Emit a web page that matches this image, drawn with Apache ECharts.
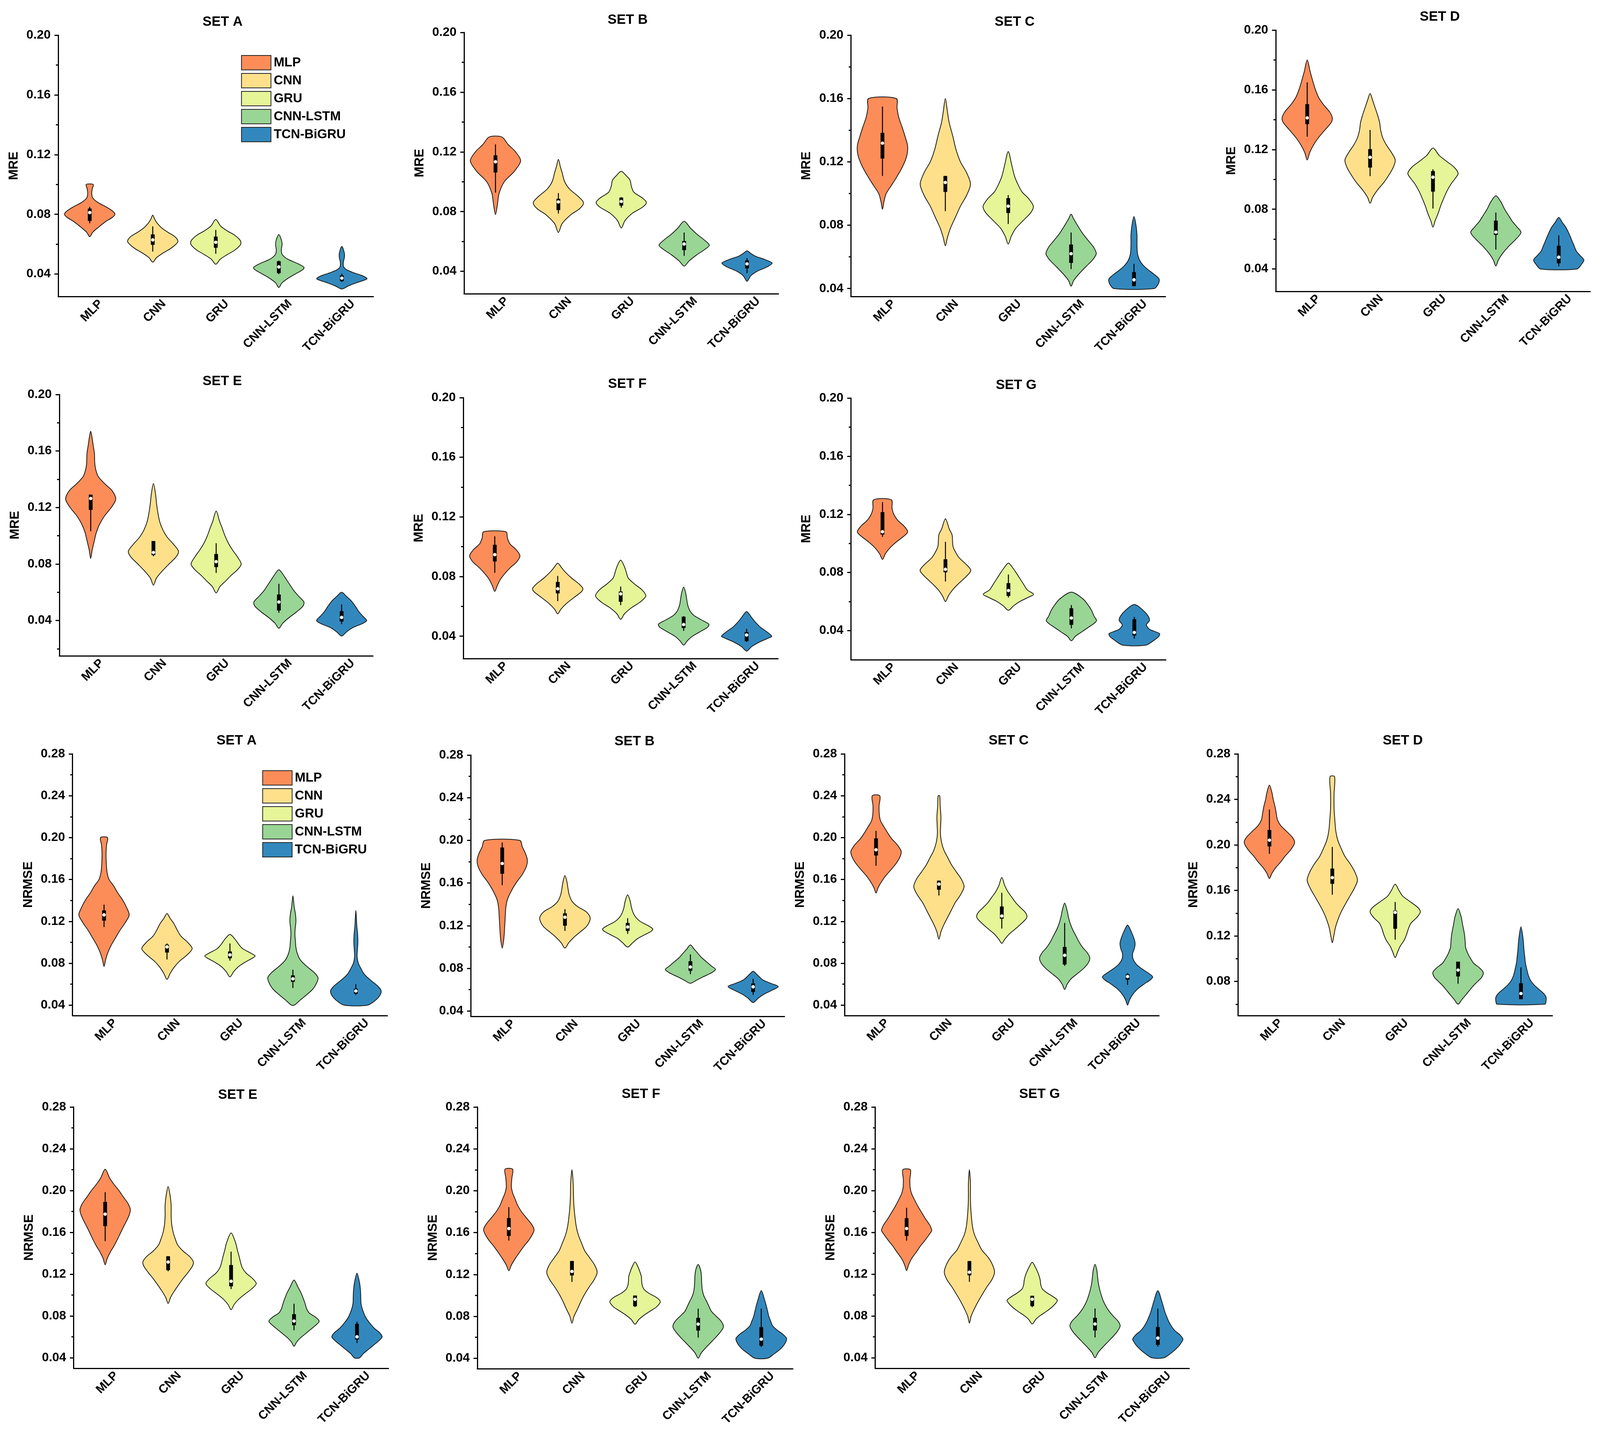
<!DOCTYPE html>
<html>
<head>
<meta charset="utf-8">
<title>MRE / NRMSE violins</title>
<script src="https://cdn.jsdelivr.net/npm/echarts@6.0.0/dist/echarts.min.js"></script>
<style>
  html, body { margin: 0; padding: 0; background: #fff; overflow: hidden; }
</style>
</head>
<body>
<div id="chart"></div>
<script>
// models and colours
var models = ['MLP', 'CNN', 'GRU', 'CNN-LSTM', 'TCN-BiGRU'];
var colors = ['#FC8D59', '#FEE08B', '#E6F598', '#99D594', '#3288BD'];

// tick values
var mreMajor = [0.04, 0.08, 0.12, 0.16, 0.20];
var mreMinor = [0.02, 0.06, 0.10, 0.14, 0.18];
var nrmseMajor = [0.04, 0.08, 0.12, 0.16, 0.20, 0.24, 0.28];
var nrmseMinor = [0.06, 0.10, 0.14, 0.18, 0.22, 0.26];

// violin outlines: [value, relative half width]
// boxes: [whisker low, q1, median, q3, whisker high]
var mreA_shape = [
  [[0.065,0],[0.068,0.12],[0.071,0.32],[0.075,0.62],[0.078,0.9],[0.080,1.0],[0.082,0.92],[0.085,0.65],[0.088,0.32],[0.091,0.12],[0.094,0.08],[0.097,0.1],[0.100,0.14]],
  [[0.048,0],[0.051,0.15],[0.054,0.4],[0.057,0.7],[0.060,0.92],[0.062,1.0],[0.065,0.88],[0.068,0.6],[0.071,0.35],[0.074,0.18],[0.077,0.07],[0.0795,0]],
  [[0.0466,0],[0.050,0.18],[0.053,0.45],[0.056,0.75],[0.059,0.95],[0.061,1.0],[0.063,0.95],[0.066,0.75],[0.069,0.45],[0.072,0.2],[0.0765,0]],
  [[0.031,0],[0.034,0.12],[0.037,0.35],[0.040,0.65],[0.043,0.95],[0.0445,1.0],[0.047,0.75],[0.050,0.35],[0.053,0.14],[0.056,0.1],[0.060,0.13],[0.063,0.1],[0.0665,0]],
  [[0.030,0],[0.032,0.25],[0.034,0.55],[0.036,0.9],[0.037,1.0],[0.039,0.8],[0.041,0.45],[0.043,0.18],[0.045,0.07],[0.048,0.06],[0.051,0.1],[0.054,0.1],[0.0585,0]]
];
var mreA_box = [[0.074,0.0756,0.0812,0.0839,0.085],[0.0551,0.0596,0.0629,0.0666,0.0719],[0.0536,0.0576,0.0613,0.0651,0.0696],[0.040,0.0406,0.0448,0.0486,0.049],[0.0347,0.0353,0.0373,0.0391,0.0403]];

var mreB_shape = [
  [[0.078,0],[0.085,0.08],[0.092,0.14],[0.100,0.35],[0.107,0.75],[0.114,1.0],[0.120,0.8],[0.125,0.5],[0.130,0.25]],
  [[0.066,0],[0.072,0.15],[0.078,0.5],[0.082,0.85],[0.086,1.0],[0.090,0.8],[0.095,0.45],[0.100,0.25],[0.106,0.15],[0.110,0.08],[0.115,0]],
  [[0.069,0],[0.074,0.15],[0.079,0.45],[0.083,0.85],[0.086,1.0],[0.089,0.85],[0.093,0.5],[0.097,0.4],[0.101,0.35],[0.104,0.2],[0.107,0]],
  [[0.0435,0],[0.047,0.2],[0.051,0.5],[0.055,0.85],[0.0575,1.0],[0.061,0.8],[0.065,0.5],[0.069,0.25],[0.0735,0]],
  [[0.0333,0],[0.037,0.15],[0.040,0.4],[0.043,0.8],[0.0455,1.0],[0.048,0.7],[0.050,0.35],[0.052,0.15],[0.0537,0]]
];
var mreB_box = [[0.0927,0.1062,0.1134,0.1177,0.125],[0.0787,0.081,0.0865,0.0886,0.0924],[0.0826,0.084,0.0868,0.0894,0.0897],[0.0504,0.0542,0.0583,0.0603,0.066],[0.0388,0.042,0.045,0.0473,0.0488]];

var mreC_shape = [
  [[0.090,0],[0.095,0.06],[0.100,0.15],[0.105,0.35],[0.110,0.55],[0.117,0.8],[0.124,0.97],[0.130,1.0],[0.136,0.9],[0.142,0.78],[0.148,0.65],[0.154,0.58],[0.160,0.55]],
  [[0.067,0],[0.072,0.08],[0.078,0.2],[0.085,0.4],[0.092,0.6],[0.099,0.85],[0.106,1.0],[0.113,0.85],[0.120,0.6],[0.128,0.42],[0.136,0.3],[0.145,0.15],[0.152,0.08],[0.160,0]],
  [[0.068,0],[0.073,0.12],[0.078,0.3],[0.083,0.6],[0.088,0.9],[0.092,1.0],[0.097,0.8],[0.101,0.55],[0.106,0.38],[0.111,0.25],[0.118,0.14],[0.1265,0]],
  [[0.0415,0],[0.045,0.1],[0.049,0.3],[0.054,0.6],[0.058,0.85],[0.062,1.0],[0.066,0.9],[0.070,0.7],[0.075,0.45],[0.080,0.25],[0.084,0.1],[0.087,0]],
  [[0.040,0.8],[0.043,0.97],[0.046,1.0],[0.049,0.8],[0.052,0.55],[0.055,0.35],[0.058,0.22],[0.062,0.14],[0.068,0.12],[0.074,0.12],[0.080,0.08],[0.0855,0]]
];
var mreC_box = [[0.1111,0.1221,0.1318,0.1383,0.1549],[0.0889,0.101,0.107,0.1111,0.1111],[0.0808,0.0877,0.092,0.0971,0.099],[0.0523,0.0562,0.062,0.0678,0.0754],[0.0415,0.0415,0.0455,0.0504,0.0556]];

var mreD_shape = [
  [[0.113,0],[0.118,0.1],[0.123,0.25],[0.128,0.45],[0.133,0.7],[0.138,0.95],[0.141,1.0],[0.145,0.9],[0.150,0.65],[0.155,0.45],[0.160,0.33],[0.166,0.22],[0.172,0.12],[0.180,0]],
  [[0.084,0],[0.088,0.1],[0.093,0.3],[0.098,0.55],[0.103,0.75],[0.108,0.92],[0.113,1.0],[0.118,0.85],[0.123,0.65],[0.128,0.5],[0.133,0.42],[0.138,0.38],[0.143,0.3],[0.148,0.2],[0.153,0.1],[0.1575,0]],
  [[0.068,0],[0.072,0.08],[0.077,0.2],[0.082,0.3],[0.087,0.42],[0.092,0.55],[0.097,0.72],[0.101,0.9],[0.104,1.0],[0.108,0.85],[0.112,0.55],[0.116,0.25],[0.121,0]],
  [[0.042,0],[0.046,0.1],[0.050,0.25],[0.055,0.5],[0.060,0.8],[0.0645,1.0],[0.068,0.85],[0.072,0.65],[0.076,0.5],[0.080,0.35],[0.085,0.2],[0.089,0]],
  [[0.040,0.72],[0.043,0.9],[0.046,1.0],[0.049,0.85],[0.052,0.7],[0.056,0.6],[0.060,0.5],[0.064,0.4],[0.068,0.28],[0.071,0.15],[0.0745,0]]
];
var mreD_box = [[0.1286,0.137,0.1412,0.1504,0.165],[0.1022,0.1079,0.1148,0.1203,0.1331],[0.0805,0.0918,0.1015,0.1056,0.1068],[0.053,0.0628,0.0647,0.0724,0.0778],[0.0418,0.0438,0.0479,0.0556,0.0625]];

var mreE_shape = [
  [[0.084,0],[0.090,0.06],[0.096,0.14],[0.102,0.22],[0.108,0.35],[0.114,0.55],[0.120,0.82],[0.126,1.0],[0.132,0.85],[0.137,0.55],[0.142,0.3],[0.147,0.2],[0.152,0.16],[0.158,0.15],[0.164,0.1],[0.170,0.05],[0.174,0]],
  [[0.065,0],[0.070,0.12],[0.075,0.35],[0.080,0.62],[0.085,0.9],[0.089,1.0],[0.094,0.8],[0.099,0.55],[0.104,0.38],[0.110,0.25],[0.116,0.18],[0.122,0.13],[0.130,0.08],[0.137,0]],
  [[0.0595,0],[0.064,0.15],[0.068,0.38],[0.072,0.6],[0.076,0.85],[0.080,1.0],[0.085,0.85],[0.090,0.65],[0.095,0.48],[0.100,0.35],[0.105,0.25],[0.110,0.14],[0.1175,0]],
  [[0.0345,0],[0.038,0.15],[0.042,0.4],[0.046,0.7],[0.050,0.95],[0.053,1.0],[0.057,0.8],[0.061,0.6],[0.065,0.45],[0.069,0.3],[0.073,0.15],[0.076,0]],
  [[0.029,0],[0.032,0.2],[0.035,0.45],[0.038,0.85],[0.040,1.0],[0.043,0.85],[0.046,0.7],[0.050,0.55],[0.054,0.38],[0.057,0.2],[0.060,0]]
];
var mreE_box = [[0.1032,0.1183,0.1264,0.1291,0.1291],[0.0855,0.0863,0.0882,0.0963,0.0963],[0.0737,0.0778,0.0817,0.0871,0.0947],[0.0455,0.0471,0.0531,0.0584,0.066],[0.0374,0.0393,0.0422,0.0466,0.0514]];

var mreF_shape = [
  [[0.070,0],[0.074,0.1],[0.078,0.22],[0.082,0.4],[0.086,0.62],[0.090,0.88],[0.094,1.0],[0.098,0.85],[0.102,0.6],[0.106,0.5],[0.110,0.45]],
  [[0.055,0],[0.058,0.12],[0.062,0.35],[0.066,0.65],[0.070,0.95],[0.072,1.0],[0.075,0.85],[0.079,0.55],[0.083,0.3],[0.086,0.15],[0.089,0]],
  [[0.0513,0],[0.055,0.15],[0.059,0.42],[0.063,0.78],[0.067,1.0],[0.071,0.85],[0.075,0.55],[0.079,0.3],[0.083,0.22],[0.087,0.14],[0.091,0]],
  [[0.034,0],[0.037,0.15],[0.040,0.35],[0.043,0.65],[0.046,0.95],[0.048,1.0],[0.051,0.7],[0.054,0.4],[0.057,0.25],[0.061,0.16],[0.065,0.12],[0.069,0.08],[0.073,0]],
  [[0.030,0],[0.033,0.2],[0.036,0.5],[0.039,0.9],[0.040,1.0],[0.043,0.8],[0.046,0.55],[0.050,0.32],[0.053,0.18],[0.0565,0]]
];
var mreF_box = [[0.0825,0.0901,0.0947,0.1013,0.107],[0.0635,0.0687,0.0718,0.0764,0.0804],[0.0608,0.0631,0.0684,0.07,0.0733],[0.0436,0.0455,0.0478,0.0531,0.0534],[0.0362,0.0367,0.0408,0.0428,0.045]];

var mreG_shape = [
  [[0.089,0],[0.093,0.12],[0.097,0.3],[0.101,0.55],[0.105,0.85],[0.108,1.0],[0.112,0.85],[0.116,0.6],[0.120,0.45],[0.124,0.38],[0.130,0.35]],
  [[0.060,0],[0.064,0.12],[0.068,0.28],[0.072,0.5],[0.076,0.75],[0.080,0.97],[0.082,1.0],[0.086,0.8],[0.090,0.55],[0.094,0.4],[0.098,0.3],[0.102,0.28],[0.106,0.26],[0.110,0.15],[0.117,0]],
  [[0.054,0],[0.057,0.2],[0.060,0.45],[0.063,0.8],[0.065,1.0],[0.068,0.75],[0.072,0.6],[0.076,0.45],[0.080,0.3],[0.083,0.18],[0.0865,0]],
  [[0.033,0],[0.036,0.15],[0.039,0.4],[0.042,0.65],[0.045,0.9],[0.047,1.0],[0.050,0.9],[0.054,0.8],[0.058,0.65],[0.062,0.45],[0.0665,0]],
  [[0.030,0.45],[0.033,0.75],[0.036,0.97],[0.038,1.0],[0.041,0.6],[0.044,0.48],[0.047,0.6],[0.050,0.55],[0.054,0.35],[0.058,0]]
];
var mreG_box = [[0.1045,0.1061,0.108,0.1215,0.1284],[0.0738,0.0801,0.0822,0.0891,0.1011],[0.0628,0.0639,0.0676,0.0727,0.0786],[0.0416,0.044,0.0487,0.0554,0.0576],[0.0345,0.0366,0.0388,0.0479,0.0495]];

var nrmseA_shape = [
  [[0.077,0],[0.083,0.06],[0.090,0.15],[0.097,0.28],[0.104,0.45],[0.111,0.62],[0.118,0.82],[0.126,1.0],[0.133,0.9],[0.140,0.75],[0.147,0.55],[0.154,0.38],[0.160,0.2],[0.167,0.12],[0.175,0.09],[0.185,0.08],[0.193,0.1],[0.200,0.14]],
  [[0.0645,0],[0.070,0.12],[0.076,0.28],[0.082,0.5],[0.088,0.8],[0.094,1.0],[0.100,0.82],[0.106,0.55],[0.112,0.4],[0.118,0.27],[0.123,0.12],[0.1275,0]],
  [[0.067,0],[0.072,0.15],[0.077,0.35],[0.081,0.6],[0.085,0.9],[0.087,1.0],[0.090,0.8],[0.094,0.5],[0.098,0.35],[0.103,0.2],[0.1075,0]],
  [[0.040,0.06],[0.045,0.3],[0.050,0.55],[0.055,0.78],[0.060,0.92],[0.066,1.0],[0.071,0.85],[0.077,0.55],[0.083,0.3],[0.089,0.18],[0.095,0.12],[0.101,0.1],[0.107,0.08],[0.113,0.09],[0.120,0.12],[0.127,0.1],[0.134,0.05],[0.1445,0]],
  [[0.040,0.47],[0.045,0.8],[0.050,0.97],[0.054,1.0],[0.058,0.88],[0.062,0.68],[0.066,0.48],[0.070,0.32],[0.075,0.2],[0.080,0.1],[0.086,0.05],[0.092,0.06],[0.100,0.08],[0.108,0.07],[0.115,0.04],[0.1305,0]]
];
var nrmseA_box = [[0.1146,0.1207,0.1262,0.1305,0.136],[0.0836,0.0902,0.0956,0.0978,0.0989],[0.0825,0.0847,0.088,0.0913,0.0989],[0.0564,0.0622,0.0651,0.0684,0.0738],[0.0498,0.0509,0.0535,0.0557,0.06]];

var nrmseB_shape = [
  [[0.099,0],[0.105,0.05],[0.112,0.08],[0.120,0.1],[0.128,0.12],[0.136,0.14],[0.144,0.2],[0.152,0.35],[0.160,0.55],[0.168,0.8],[0.176,0.97],[0.182,1.0],[0.188,0.92],[0.194,0.8],[0.200,0.7]],
  [[0.099,0],[0.104,0.15],[0.109,0.35],[0.114,0.6],[0.119,0.85],[0.124,0.98],[0.128,1.0],[0.133,0.85],[0.138,0.5],[0.143,0.28],[0.149,0.17],[0.155,0.12],[0.161,0.08],[0.167,0]],
  [[0.100,0],[0.104,0.2],[0.108,0.4],[0.112,0.72],[0.115,0.95],[0.117,1.0],[0.120,0.82],[0.124,0.5],[0.128,0.32],[0.132,0.22],[0.137,0.15],[0.143,0.1],[0.149,0]],
  [[0.066,0],[0.069,0.25],[0.072,0.5],[0.076,0.85],[0.079,1.0],[0.082,0.85],[0.086,0.65],[0.090,0.45],[0.094,0.3],[0.098,0.15],[0.102,0]],
  [[0.048,0],[0.052,0.2],[0.056,0.45],[0.060,0.8],[0.063,1.0],[0.066,0.7],[0.069,0.4],[0.072,0.25],[0.075,0.12],[0.0773,0]]
];
var nrmseB_box = [[0.158,0.1687,0.1783,0.1933,0.198],[0.1151,0.12,0.128,0.1316,0.1355],[0.1124,0.1151,0.1188,0.1226,0.127],[0.0745,0.0777,0.0813,0.0867,0.0931],[0.0552,0.0579,0.0627,0.0659,0.0702]];

var nrmseC_shape = [
  [[0.147,0],[0.152,0.08],[0.158,0.22],[0.164,0.4],[0.170,0.62],[0.176,0.82],[0.182,0.96],[0.187,1.0],[0.193,0.85],[0.199,0.62],[0.205,0.45],[0.211,0.3],[0.216,0.18],[0.222,0.13],[0.230,0.12],[0.240,0.15]],
  [[0.103,0],[0.110,0.08],[0.117,0.2],[0.124,0.35],[0.131,0.5],[0.138,0.65],[0.145,0.85],[0.153,1.0],[0.160,0.9],[0.167,0.7],[0.174,0.5],[0.181,0.35],[0.188,0.2],[0.196,0.1],[0.204,0.06],[0.212,0.07],[0.220,0.08],[0.230,0.05],[0.240,0.03]],
  [[0.099,0],[0.103,0.12],[0.108,0.3],[0.113,0.55],[0.118,0.78],[0.122,0.95],[0.125,1.0],[0.129,0.92],[0.133,0.75],[0.138,0.55],[0.143,0.4],[0.148,0.25],[0.154,0.12],[0.162,0]],
  [[0.055,0],[0.060,0.1],[0.065,0.25],[0.070,0.5],[0.075,0.75],[0.080,0.93],[0.085,1.0],[0.090,0.9],[0.095,0.72],[0.100,0.58],[0.106,0.45],[0.112,0.32],[0.118,0.22],[0.124,0.15],[0.130,0.1],[0.1375,0]],
  [[0.040,0],[0.045,0.08],[0.050,0.2],[0.055,0.38],[0.060,0.65],[0.064,0.9],[0.067,1.0],[0.071,0.8],[0.075,0.55],[0.079,0.35],[0.084,0.22],[0.089,0.2],[0.094,0.27],[0.099,0.3],[0.104,0.25],[0.110,0.15],[0.1165,0]]
];
var nrmseC_box = [[0.1731,0.1829,0.1884,0.1993,0.2065],[0.1447,0.1502,0.1556,0.1589,0.1589],[0.1131,0.1225,0.1251,0.1342,0.1473],[0.0775,0.0788,0.0876,0.0956,0.1185],[0.0593,0.0643,0.0673,0.0694,0.0705]];

var nrmseD_shape = [
  [[0.1705,0],[0.175,0.1],[0.180,0.25],[0.185,0.45],[0.190,0.62],[0.195,0.82],[0.200,0.97],[0.203,1.0],[0.207,0.9],[0.212,0.68],[0.217,0.45],[0.222,0.32],[0.228,0.27],[0.234,0.22],[0.240,0.15],[0.246,0.1],[0.2525,0]],
  [[0.114,0],[0.120,0.06],[0.127,0.12],[0.134,0.22],[0.141,0.35],[0.148,0.52],[0.155,0.7],[0.162,0.88],[0.169,1.0],[0.176,0.9],[0.183,0.72],[0.190,0.5],[0.197,0.35],[0.204,0.22],[0.212,0.14],[0.222,0.1],[0.232,0.07],[0.245,0.07],[0.260,0.09]],
  [[0.101,0],[0.106,0.1],[0.111,0.2],[0.116,0.35],[0.121,0.45],[0.126,0.52],[0.131,0.62],[0.136,0.85],[0.141,1.0],[0.145,0.9],[0.150,0.6],[0.155,0.3],[0.160,0.15],[0.1655,0]],
  [[0.060,0],[0.064,0.15],[0.068,0.3],[0.072,0.45],[0.076,0.6],[0.080,0.78],[0.084,0.95],[0.088,1.0],[0.092,0.85],[0.096,0.62],[0.100,0.5],[0.105,0.38],[0.110,0.3],[0.116,0.28],[0.122,0.25],[0.130,0.18],[0.137,0.12],[0.144,0]],
  [[0.060,0.95],[0.063,1.0],[0.066,1.0],[0.069,0.92],[0.073,0.72],[0.077,0.52],[0.081,0.38],[0.085,0.3],[0.090,0.24],[0.096,0.18],[0.102,0.15],[0.108,0.12],[0.114,0.1],[0.120,0.07],[0.128,0]]
];
var nrmseD_box = [[0.1922,0.1986,0.2042,0.2131,0.2311],[0.1562,0.1658,0.1712,0.1792,0.1982],[0.1167,0.1263,0.1407,0.1423,0.1498],[0.078,0.0844,0.09,0.0974,0.0974],[0.0644,0.0644,0.0694,0.0784,0.0924]];

var nrmseE_shape = [
  [[0.129,0],[0.135,0.08],[0.141,0.2],[0.147,0.35],[0.153,0.48],[0.159,0.6],[0.165,0.72],[0.171,0.85],[0.177,0.96],[0.182,1.0],[0.188,0.9],[0.194,0.72],[0.200,0.55],[0.206,0.35],[0.212,0.18],[0.2205,0]],
  [[0.092,0],[0.098,0.1],[0.104,0.25],[0.110,0.42],[0.116,0.6],[0.122,0.8],[0.128,0.97],[0.132,1.0],[0.137,0.85],[0.142,0.6],[0.148,0.38],[0.154,0.28],[0.160,0.2],[0.168,0.14],[0.176,0.12],[0.186,0.12],[0.195,0.08],[0.204,0]],
  [[0.086,0],[0.091,0.12],[0.096,0.3],[0.101,0.55],[0.106,0.82],[0.111,1.0],[0.116,0.85],[0.121,0.6],[0.126,0.45],[0.131,0.38],[0.137,0.32],[0.143,0.25],[0.150,0.18],[0.1595,0]],
  [[0.051,0],[0.055,0.1],[0.059,0.25],[0.063,0.45],[0.067,0.65],[0.071,0.85],[0.075,1.0],[0.079,0.85],[0.083,0.6],[0.087,0.5],[0.091,0.45],[0.096,0.38],[0.102,0.28],[0.108,0.15],[0.1145,0]],
  [[0.040,0.1],[0.044,0.25],[0.048,0.45],[0.052,0.65],[0.056,0.85],[0.060,1.0],[0.064,0.9],[0.068,0.7],[0.072,0.55],[0.076,0.42],[0.080,0.32],[0.086,0.22],[0.092,0.16],[0.098,0.15],[0.104,0.14],[0.112,0.1],[0.121,0]]
];
var nrmseE_box = [[0.1516,0.166,0.1775,0.1892,0.1985],[0.1228,0.1239,0.1317,0.1372,0.1372],[0.1058,0.1084,0.1133,0.1288,0.1416],[0.0664,0.0712,0.0752,0.0818,0.0918],[0.0542,0.0575,0.0601,0.0726,0.0747]];

var nrmseF_shape = [
  [[0.1235,0],[0.129,0.1],[0.135,0.25],[0.141,0.42],[0.147,0.6],[0.153,0.8],[0.159,0.95],[0.163,1.0],[0.168,0.9],[0.174,0.7],[0.180,0.5],[0.186,0.35],[0.192,0.25],[0.198,0.15],[0.204,0.1],[0.212,0.12],[0.2205,0.15]],
  [[0.0735,0],[0.080,0.08],[0.087,0.22],[0.094,0.35],[0.101,0.5],[0.108,0.68],[0.115,0.88],[0.122,1.0],[0.129,0.9],[0.136,0.7],[0.143,0.5],[0.150,0.38],[0.158,0.25],[0.166,0.17],[0.175,0.12],[0.185,0.08],[0.195,0.06],[0.207,0.05],[0.220,0]],
  [[0.0725,0],[0.077,0.15],[0.081,0.35],[0.085,0.6],[0.089,0.85],[0.094,1.0],[0.098,0.85],[0.102,0.55],[0.106,0.35],[0.110,0.28],[0.114,0.26],[0.118,0.25],[0.122,0.2],[0.127,0.12],[0.132,0]],
  [[0.040,0],[0.045,0.12],[0.050,0.3],[0.055,0.5],[0.060,0.7],[0.065,0.88],[0.070,1.0],[0.075,0.92],[0.080,0.72],[0.085,0.52],[0.090,0.42],[0.095,0.32],[0.100,0.22],[0.106,0.16],[0.112,0.14],[0.118,0.13],[0.124,0.1],[0.1295,0]],
  [[0.040,0.25],[0.044,0.5],[0.048,0.72],[0.052,0.88],[0.056,0.98],[0.059,1.0],[0.063,0.85],[0.067,0.62],[0.071,0.45],[0.075,0.38],[0.080,0.3],[0.085,0.25],[0.090,0.2],[0.095,0.14],[0.1045,0]]
];
var nrmseF_box = [[0.1524,0.1568,0.1639,0.1739,0.1843],[0.1129,0.1191,0.1229,0.1329,0.1329],[0.0889,0.0896,0.0963,0.0999,0.0999],[0.0597,0.0664,0.0726,0.0786,0.0874],[0.0508,0.0519,0.0582,0.0697,0.0874]];

var nrmseG_shape = [
  [[0.1235,0],[0.129,0.08],[0.135,0.2],[0.141,0.38],[0.147,0.55],[0.153,0.75],[0.159,0.93],[0.162,1.0],[0.167,0.92],[0.173,0.75],[0.179,0.6],[0.185,0.45],[0.191,0.32],[0.197,0.2],[0.203,0.14],[0.211,0.13],[0.220,0.15]],
  [[0.0733,0],[0.080,0.07],[0.087,0.2],[0.094,0.35],[0.101,0.52],[0.108,0.7],[0.115,0.9],[0.122,1.0],[0.129,0.92],[0.136,0.75],[0.143,0.5],[0.150,0.35],[0.158,0.2],[0.166,0.12],[0.175,0.08],[0.185,0.05],[0.195,0.04],[0.207,0.04],[0.220,0]],
  [[0.0724,0],[0.077,0.15],[0.081,0.35],[0.085,0.6],[0.090,0.85],[0.095,1.0],[0.099,0.8],[0.102,0.6],[0.106,0.4],[0.110,0.34],[0.114,0.32],[0.118,0.28],[0.122,0.22],[0.127,0.12],[0.1315,0]],
  [[0.040,0],[0.045,0.12],[0.050,0.3],[0.055,0.5],[0.060,0.7],[0.065,0.88],[0.0705,1.0],[0.075,0.92],[0.080,0.72],[0.085,0.55],[0.090,0.42],[0.095,0.32],[0.100,0.25],[0.106,0.18],[0.112,0.13],[0.118,0.1],[0.124,0.07],[0.1295,0]],
  [[0.040,0.23],[0.044,0.5],[0.048,0.7],[0.052,0.86],[0.056,0.97],[0.058,1.0],[0.062,0.88],[0.066,0.68],[0.070,0.55],[0.074,0.45],[0.079,0.36],[0.084,0.28],[0.089,0.22],[0.094,0.16],[0.1043,0]]
];
var nrmseG_box = [[0.1521,0.1566,0.1637,0.1736,0.1836],[0.1127,0.1189,0.122,0.1326,0.1326],[0.0885,0.0894,0.0961,0.0994,0.0994],[0.0595,0.0662,0.0724,0.0783,0.0872],[0.0508,0.0524,0.0589,0.0695,0.0872]];

// panel layout in reference pixels (4234 x 3684), axis range and title position
var panels = [
  {title:'SET A', name:'MRE', shape:mreA_shape, box:mreA_box, min:0.025, max:0.20, left:154, top:90, width:834, height:669, tx:589, ty:57},
  {title:'SET B', name:'MRE', shape:mreB_shape, box:mreB_box, min:0.025, max:0.20, left:1228, top:83, width:832, height:669, tx:1661, ty:52},
  {title:'SET C', name:'MRE', shape:mreC_shape, box:mreC_box, min:0.035, max:0.20, left:2252, top:90, width:832, height:669, tx:2685, ty:57},
  {title:'SET D', name:'MRE', shape:mreD_shape, box:mreD_box, min:0.025, max:0.20, left:3376, top:77, width:832, height:669, tx:3810, ty:44},
  {title:'SET E', name:'MRE', shape:mreE_shape, box:mreE_box, min:0.015, max:0.20, left:157, top:1010, width:830, height:669, tx:588, ty:977},
  {title:'SET F', name:'MRE', shape:mreF_shape, box:mreF_box, min:0.025, max:0.20, left:1226, top:1018, width:833, height:668, tx:1660, ty:984},
  {title:'SET G', name:'MRE', shape:mreG_shape, box:mreG_box, min:0.02, max:0.20, left:2252, top:1019, width:833, height:670, tx:2689, ty:987},
  {title:'SET A', name:'NRMSE', shape:nrmseA_shape, box:nrmseA_box, min:0.03, max:0.28, left:192, top:1930, width:833, height:670, tx:626, ty:1897},
  {title:'SET B', name:'NRMSE', shape:nrmseB_shape, box:nrmseB_box, min:0.035, max:0.28, left:1246, top:1933, width:830, height:669, tx:1679, ty:1899},
  {title:'SET C', name:'NRMSE', shape:nrmseC_shape, box:nrmseC_box, min:0.03, max:0.28, left:2235, top:1930, width:832, height:670, tx:2669, ty:1897},
  {title:'SET D', name:'NRMSE', shape:nrmseD_shape, box:nrmseD_box, min:0.05, max:0.28, left:3276, top:1930, width:832, height:670, tx:3712, ty:1897},
  {title:'SET E', name:'NRMSE', shape:nrmseE_shape, box:nrmseE_box, min:0.03, max:0.28, left:195, top:2834, width:833, height:669, tx:629, ty:2804},
  {title:'SET F', name:'NRMSE', shape:nrmseF_shape, box:nrmseF_box, min:0.03, max:0.28, left:1263, top:2834, width:835, height:670, tx:1696, ty:2802},
  {title:'SET G', name:'NRMSE', shape:nrmseG_shape, box:nrmseG_box, min:0.03, max:0.28, left:2316, top:2834, width:831, height:669, tx:2751, ty:2802}
];

var FONT = '"Liberation Sans", Arial, Helvetica, sans-serif';

// fit the reference layout into whatever viewport we actually get
var W = Math.min(window.innerWidth || 4234, 4234);
var H = Math.min(window.innerHeight || 3684, 3684);
var sx = W / 4234, sy = H / 3684, sf = Math.min(sx, sy);
var el = document.getElementById('chart');
el.style.width = W + 'px';
el.style.height = H + 'px';

// one violin with its inner box plot
function violinRenderer(shape, box) {
  return function (params, api) {
    var ci = api.value(0);
    var cx = api.coord([ci, box[2]])[0];
    var band = api.size([1, 0])[0];
    var half = band * 0.4;
    var yOf = function (v) { return api.coord([ci, v])[1]; };
    var leftSide = shape.map(function (p) { return [cx - p[1] * half, yOf(p[0])]; });
    var rightSide = shape.slice().reverse().map(function (p) { return [cx + p[1] * half, yOf(p[0])]; });
    if (shape[shape.length - 1][1] === 0) rightSide.shift();
    if (shape[0][1] === 0) rightSide.pop();
    var bw = band * 0.06;
    return {
      type: 'group',
      children: [
        {type: 'polygon', shape: {points: leftSide.concat(rightSide), smooth: 0.3},
         style: {fill: api.visual('color'), stroke: '#1a1a1a', lineWidth: 2}},
        {type: 'line', shape: {x1: cx, y1: yOf(box[0]), x2: cx, y2: yOf(box[4])},
         style: {stroke: '#000', lineWidth: 2.5}},
        {type: 'rect', shape: {x: cx - bw / 2, y: yOf(box[3]), width: bw, height: yOf(box[1]) - yOf(box[3])},
         style: {fill: '#000'}},
        {type: 'circle', shape: {cx: cx, cy: yOf(box[2]), r: 4.5 * sf}, style: {fill: '#fff'}}
      ]
    };
  };
}

var grids = [], xAxes = [], yAxes = [], titles = [], series = [];

panels.forEach(function (p, i) {
  var major = (p.name === 'MRE' ? mreMajor : nrmseMajor).filter(function (v) { return v >= p.min + 1e-9; });
  var minor = (p.name === 'MRE' ? mreMinor : nrmseMinor).filter(function (v) { return v >= p.min + 1e-9; });

  grids.push({left: p.left * sx, top: p.top * sy, width: p.width * sx, height: p.height * sy});

  titles.push({
    text: p.title, left: p.tx * sx, top: p.ty * sy - 19 * sf, textAlign: 'center', padding: 0,
    textStyle: {fontSize: 36 * sf, fontWeight: 'bold', color: '#000', fontFamily: FONT}
  });

  xAxes.push({
    type: 'category', gridIndex: i, data: models, boundaryGap: true,
    axisLine: {lineStyle: {color: '#000', width: 3}},
    axisTick: {alignWithLabel: true, length: 12 * sf, lineStyle: {color: '#000', width: 3}},
    axisLabel: {interval: 0, rotate: 45, margin: 44 * sf, padding: [0, -42 * sf, 0, 0],
                fontSize: 32 * sf, fontWeight: 'bold', color: '#000', fontFamily: FONT},
    splitLine: {show: false}
  });

  yAxes.push({
    type: 'value', gridIndex: i, position: 'left', min: p.min, max: p.max,
    name: p.name, nameLocation: 'middle', nameGap: 100 * sx,
    nameTextStyle: {fontSize: 34 * sf, fontWeight: 'bold', color: '#000', fontFamily: FONT},
    axisLine: {show: true, lineStyle: {color: '#000', width: 3}},
    axisTick: {show: true, length: 10 * sf, lineStyle: {color: '#000', width: 3}, customValues: major},
    axisLabel: {customValues: major, margin: 20 * sx, fontSize: 33 * sf, fontWeight: 'bold', color: '#000', fontFamily: FONT,
                formatter: function (v) { return v.toFixed(2); }},
    splitLine: {show: false}
  });
  yAxes.push({
    type: 'value', gridIndex: i, position: 'left', min: p.min, max: p.max,
    axisLine: {show: false},
    axisTick: {show: true, length: 6 * sf, lineStyle: {color: '#000', width: 3}, customValues: minor},
    axisLabel: {show: false},
    splitLine: {show: false}
  });

  models.forEach(function (m, k) {
    series.push({
      type: 'custom', name: m, xAxisIndex: i, yAxisIndex: 2 * i,
      itemStyle: {color: colors[k]},
      encode: {x: 0, y: 1},
      data: [[k, p.box[k][2]]],
      renderItem: violinRenderer(p.shape[k], p.box[k]),
      silent: true
    });
  });
});

function legendAt(left, top) {
  return {
    orient: 'vertical', left: left * sx, top: top * sy, padding: 0,
    itemWidth: 78 * sx, itemHeight: 37 * sy, itemGap: 7 * sy, icon: 'rect', selectedMode: false,
    itemStyle: {borderColor: '#222', borderWidth: 2},
    textStyle: {fontSize: 34 * sf, fontWeight: 'bold', color: '#000', fontFamily: FONT, padding: [0, 0, 0, 2]},
    data: models
  };
}

var chart = echarts.init(el, null, {renderer: 'canvas'});
chart.setOption({
  backgroundColor: '#fff',
  animation: false,
  title: titles,
  legend: [legendAt(638, 141), legendAt(694, 1972)],
  grid: grids,
  xAxis: xAxes,
  yAxis: yAxes,
  series: series
});
</script>
</body>
</html>
